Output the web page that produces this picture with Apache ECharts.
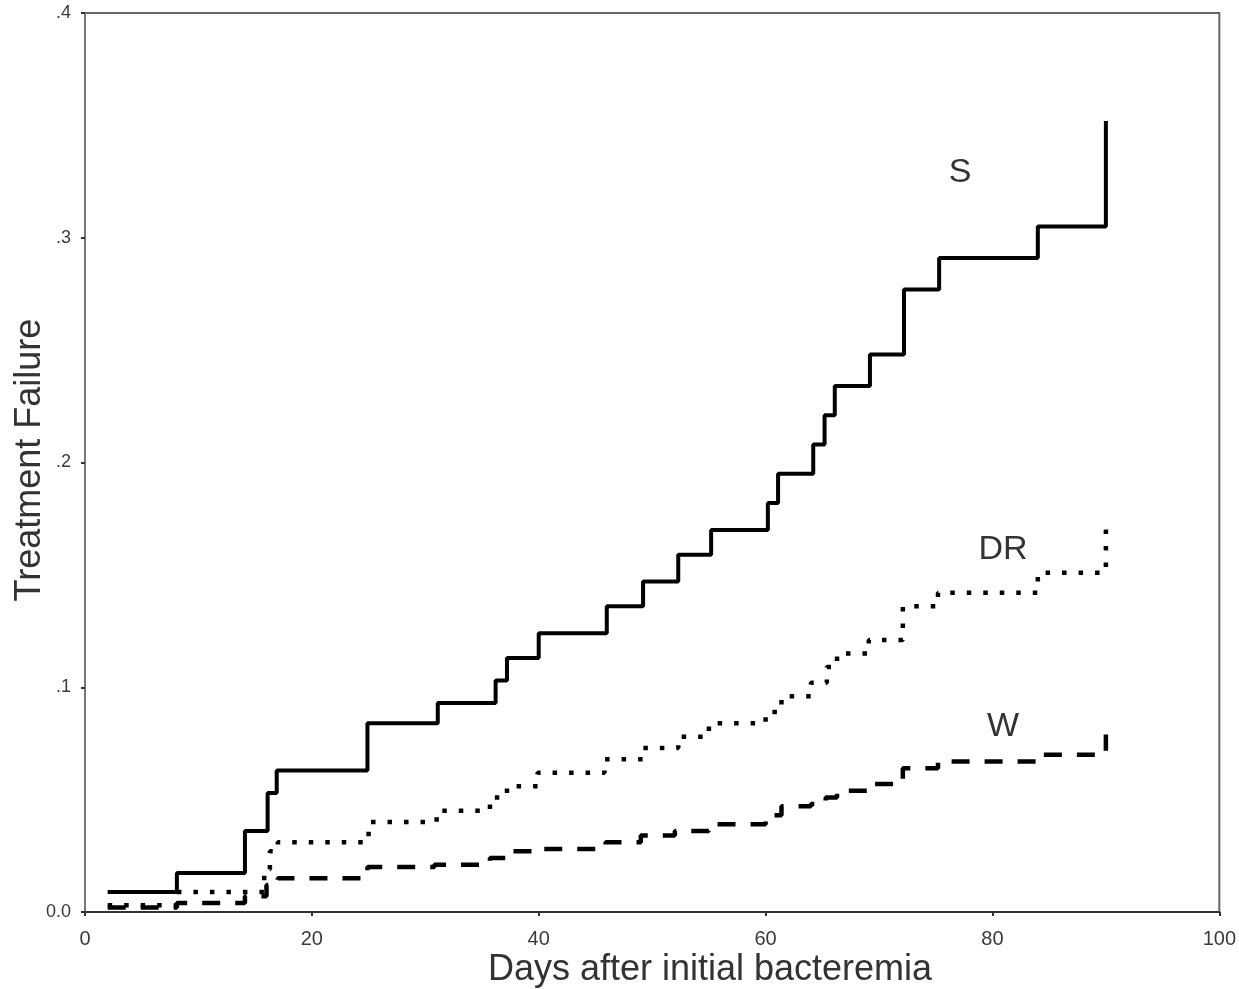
<!DOCTYPE html>
<html>
<head>
<meta charset="utf-8">
<script src="https://cdn.jsdelivr.net/npm/echarts@6/dist/echarts.min.js"></script>
<style>
html,body{margin:0;padding:0;background:#fff;}
#chart{width:1239px;height:989px;}
</style>
</head>
<body>
<div id="chart"></div>
<script>
// Days after initial bacteremia (x) and cumulative treatment failure (y)
const sDays  = [2, 8.1, 14.1, 16.1, 16.9, 24.9, 31.1, 36.2, 37.2, 40, 46, 49.2, 52.3, 55.2, 60.2, 61.1, 64.2, 65.2, 66.1, 69.2, 72.2, 75.3, 84, 90];
const sVals  = [0.0089, 0.0173, 0.036, 0.053, 0.063, 0.084, 0.093, 0.103, 0.113, 0.124, 0.136, 0.147, 0.159, 0.170, 0.182, 0.195, 0.208, 0.221, 0.234, 0.248, 0.277, 0.291, 0.305, 0.352];

const drDays = [2, 8.1, 15.8, 16.3, 17, 25, 31, 35.7, 37.2, 39.9, 45.8, 49.2, 52.3, 55, 60, 61.4, 64, 65.4, 66.3, 69.1, 72.1, 75.2, 84, 90];
const drVals = [0.003, 0.0089, 0.019, 0.027, 0.031, 0.040, 0.045, 0.051, 0.056, 0.062, 0.068, 0.073, 0.078, 0.084, 0.089, 0.096, 0.102, 0.109, 0.115, 0.121, 0.136, 0.142, 0.151, 0.174];

const wDays  = [2, 8.1, 14.1, 16, 17, 24.9, 30.8, 35.7, 37.2, 39.9, 45.9, 49, 52, 55, 60, 61.4, 64, 65.3, 66.3, 69.2, 72.1, 75.2, 84, 90];
const wVals  = [0.002, 0.004, 0.007, 0.012, 0.015, 0.020, 0.021, 0.024, 0.027, 0.028, 0.031, 0.034, 0.036, 0.039, 0.043, 0.047, 0.048, 0.051, 0.054, 0.057, 0.064, 0.067, 0.070, 0.079];

const seriesNames = ['S', 'DR', 'W'];
const xTicks = [0, 20, 40, 60, 80, 100];
const yTickLabels = ['0.0', '.1', '.2', '.3', '.4'];
const xTitle = 'Days after initial bacteremia';
const yTitle = 'Treatment Failure';

const zip = (a, b) => a.map((v, i) => [v, b[i]]);
const FONT = '"Liberation Sans", Arial, Helvetica, sans-serif';

const chart = echarts.init(document.getElementById('chart'), null, {renderer: 'canvas'});
chart.setOption({
  backgroundColor: '#ffffff',
  animation: false,
  grid: {left: 85, top: 13, width: 1135, height: 899, show: true, borderColor: '#666', borderWidth: 2, backgroundColor: 'transparent'},
  xAxis: {
    type: 'value', min: 0, max: 100, interval: 20,
    axisLine: {lineStyle: {color: '#333', width: 2}},
    axisTick: {show: true, length: 4, lineStyle: {color: '#333', width: 2}},
    axisLabel: {color: '#3a3a3a', fontSize: 20, fontFamily: FONT, margin: 17,
      formatter: v => xTicks.includes(v) ? String(v) : ''},
    splitLine: {show: false}
  },
  yAxis: {
    type: 'value', min: 0, max: 0.4, interval: 0.1,
    axisLine: {show: true, lineStyle: {color: '#777', width: 2}},
    axisTick: {show: true, length: 4, lineStyle: {color: '#333', width: 2}},
    axisLabel: {color: '#3a3a3a', fontSize: 18, fontFamily: FONT, margin: 14,
      formatter: v => yTickLabels[Math.round(v * 10)]},
    splitLine: {show: false}
  },
  series: [
    {name: seriesNames[0], type: 'line', step: 'end', showSymbol: false, data: zip(sDays, sVals),
     lineStyle: {color: '#000', width: 4}},
    {name: seriesNames[1], type: 'line', step: 'end', showSymbol: false, data: zip(drDays, drVals),
     lineStyle: {color: '#000', width: 4.5, type: [4.5, 12]}},
    {name: seriesNames[2], type: 'line', step: 'end', showSymbol: false, data: zip(wDays, wVals),
     lineStyle: {color: '#000', width: 4.5, type: [18, 15]}}
  ],
  graphic: [
    {type: 'text', x: 960, y: 173, style: {text: seriesNames[0], fill: '#333', font: '34px ' + FONT, textAlign: 'center', textVerticalAlign: 'middle'}},
    {type: 'text', x: 1003, y: 550, style: {text: seriesNames[1], fill: '#333', font: '34px ' + FONT, textAlign: 'center', textVerticalAlign: 'middle'}},
    {type: 'text', x: 1003, y: 727, style: {text: seriesNames[2], fill: '#333', font: '34px ' + FONT, textAlign: 'center', textVerticalAlign: 'middle'}},
    {type: 'text', x: 710, y: 970, style: {text: xTitle, fill: '#333', font: '36px ' + FONT, textAlign: 'center', textVerticalAlign: 'middle'}},
    {type: 'text', x: 30, y: 460, rotation: Math.PI / 2, style: {text: yTitle, fill: '#333', font: '36px ' + FONT, textAlign: 'center', textVerticalAlign: 'middle'}}
  ]
});
</script>
</body>
</html>
